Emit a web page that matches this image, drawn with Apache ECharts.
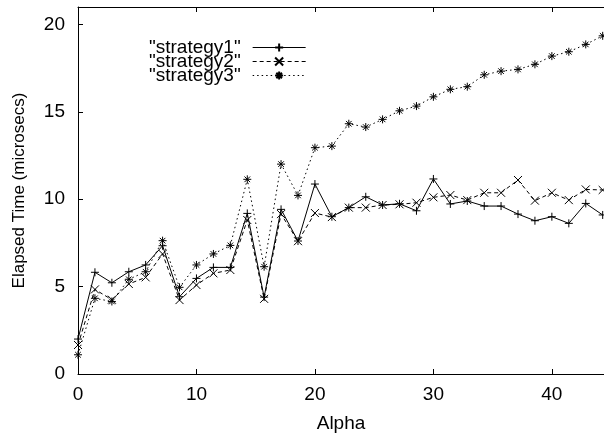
<!DOCTYPE html>
<html>
<head>
<meta charset="utf-8">
<script src="https://cdn.jsdelivr.net/npm/echarts@6/dist/echarts.min.js"></script>
<style>
html,body{margin:0;padding:0;background:#fff;}
#chart{width:604px;height:437px;}
</style>
</head>
<body>
<div id="chart"></div>
<script>
const alpha = [0,1.43,2.86,4.29,5.71,7.14,8.57,10,11.43,12.86,14.29,15.71,17.14,18.57,20,21.43,22.86,24.29,25.71,27.14,28.57,30,31.43,32.86,34.29,35.71,37.14,38.57,40,41.43,42.86,44.29];
const strategy1 = [2.0,5.82,5.22,5.85,6.24,7.34,4.42,5.47,6.10,6.10,9.19,4.40,9.42,7.61,10.87,9.0,9.52,10.14,9.67,9.74,9.34,11.16,9.73,9.90,9.61,9.61,9.15,8.77,9.0,8.62,9.76,9.10];
const strategy2 = [1.66,4.84,4.25,5.15,5.53,6.87,4.23,5.09,5.76,5.95,8.81,4.30,9.15,7.60,9.21,8.98,9.52,9.52,9.67,9.71,9.80,10.11,10.24,9.95,10.37,10.37,11.10,9.92,10.37,9.95,10.56,10.53];
const strategy3 = [1.10,4.33,4.15,5.42,5.85,7.63,4.96,6.24,6.87,7.36,11.14,6.14,12.01,10.22,12.95,13.04,14.32,14.13,14.57,15.06,15.33,15.86,16.29,16.44,17.12,17.33,17.43,17.72,18.19,18.44,18.86,19.35];
const seriesNames = ['"strategy1"','"strategy2"','"strategy3"'];
const xTicks = [0,10,20,30,40];
const yTicks = [0,5,10,15,20];

const FONT = 'Liberation Sans';
const plusPath = 'path://M0,5L10,5M5,0L5,10';
const crossPath = 'path://M1,1L9,9M9,1L1,9';
const starPath = 'path://M0,5L10,5M5,0L5,10M1.5,1.5L8.5,8.5M8.5,1.5L1.5,8.5';

function pairs(ys){ return alpha.map((x,i)=>[x, ys[i]]); }

function mk(name, ys, sym, dash){
  return {
    name: name, type: 'line', data: pairs(ys),
    symbol: sym, symbolSize: 8, showSymbol: true,
    lineStyle: {color:'#000', width:1, type: dash},
    itemStyle: {color:'rgba(0,0,0,0)', borderColor:'#000', borderWidth:1},
    emphasis:{disabled:true},
    animation:false
  };
}

const chart = echarts.init(document.getElementById('chart'), null, {renderer:'canvas'});
const axisCommon = {
  axisLine:{show:true, lineStyle:{color:'#000', width:1}},
  axisTick:{show:true, inside:true, length:5, lineStyle:{color:'#000'}},
  splitLine:{show:false},
  axisLabel:{color:'#000', fontFamily:FONT, fontSize:19},
  nameTextStyle:{color:'#000', fontFamily:FONT, fontSize:17}
};
chart.setOption({
  animation:false,
  backgroundColor:'#fff',
  grid:{left:78, top:7, right:0, bottom:63, containLabel:false, outerBoundsMode:'none'},
  legend:{
    show:true, orient:'vertical', left:144, top:33, align:'right',
    itemWidth:53, itemHeight:10, itemGap:-5,
    lineStyle:{width:1},
    textStyle:{color:'#000', fontFamily:FONT, fontSize:19, padding:[0,7,0,0]},
    data: seriesNames
  },
  xAxis:[
    Object.assign({}, axisCommon, {
      type:'value', min:0, max:44.4, interval:10, position:'bottom',
      name:'Alpha', nameLocation:'middle', nameGap:40,
      nameTextStyle:{color:'#000', fontFamily:FONT, fontSize:19},
      axisLabel:Object.assign({}, axisCommon.axisLabel, {margin:11, customValues: xTicks})
    }),
    Object.assign({}, axisCommon, {
      type:'value', min:0, max:44.4, interval:10, position:'top',
      axisLabel:{show:false}
    })
  ],
  yAxis:[
    Object.assign({}, axisCommon, {
      type:'value', min:0, max:21, interval:5, position:'left',
      name:'Elapsed Time (microsecs)', nameLocation:'middle', nameGap:50,
      axisLabel:Object.assign({}, axisCommon.axisLabel, {margin:13, customValues: yTicks})
    })
  ],
  series:[
    mk(seriesNames[0], strategy1, plusPath, 'solid'),
    mk(seriesNames[1], strategy2, crossPath, [4,3]),
    mk(seriesNames[2], strategy3, starPath, [1.5,3])
  ]
});
</script>
</body>
</html>
